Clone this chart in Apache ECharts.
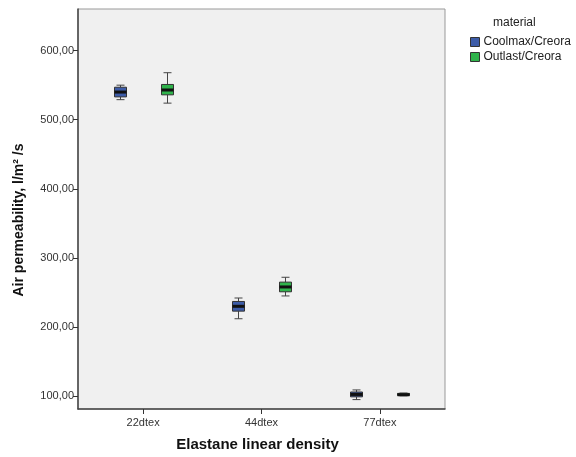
<!DOCTYPE html>
<html>
<head>
<meta charset="utf-8">
<script src="https://cdn.jsdelivr.net/npm/echarts@6/dist/echarts.min.js"></script>
<style>
html,body{margin:0;padding:0;background:#fff;}
#main{width:576px;height:457px;}
</style>
</head>
<body>
<div id="main"></div>
<script>
// ---- data ----
const categories = ['22dtex', '44dtex', '77dtex'];
const seriesNames = ['Coolmax/Creora', 'Outlast/Creora'];
// [min, Q1, median, Q3, max] per category
const coolmax = [
  [529, 533, 540, 547, 550],
  [212, 223, 230, 237, 242],
  [95, 99, 102.5, 106, 109]
];
const outlast = [
  [524, 536, 543, 551, 568],
  [245, 251, 258, 265, 272],
  [100.5, 101, 102, 104, 104.5]
];
const yTicks = [100, 200, 300, 400, 500, 600];
const xTicks = [0, 1, 2];

// ---- styling ----
const colors = ['#3d5ca8', '#2fb34b'];
const chart = echarts.init(document.getElementById('main'), null, {renderer: 'canvas'});
const font = '"Liberation Sans", Arial, sans-serif';

function renderBox(offset) {
  return function (params, api) {
    const x = api.value(0);
    const pMin = api.coord([x, api.value(1)]);
    const pQ1 = api.coord([x, api.value(2)]);
    const pMed = api.coord([x, api.value(3)]);
    const pQ3 = api.coord([x, api.value(4)]);
    const pMax = api.coord([x, api.value(5)]);
    const cx = Math.round(pMin[0] + offset) + 0.5;
    const hw = 6, cap = 4;
    const wStyle = {stroke: '#444', lineWidth: 1};
    return {
      type: 'group',
      children: [
        {type: 'line', shape: {x1: cx, y1: pMax[1], x2: cx, y2: pQ3[1]}, style: wStyle},
        {type: 'line', shape: {x1: cx, y1: pQ1[1], x2: cx, y2: pMin[1]}, style: wStyle},
        {type: 'line', shape: {x1: cx - cap, y1: pMax[1], x2: cx + cap, y2: pMax[1]}, style: wStyle},
        {type: 'line', shape: {x1: cx - cap, y1: pMin[1], x2: cx + cap, y2: pMin[1]}, style: wStyle},
        {type: 'rect', shape: {x: cx - hw, y: pQ3[1], width: hw * 2, height: pQ1[1] - pQ3[1]},
          style: {fill: api.visual('color'), stroke: '#333', lineWidth: 1}},
        {type: 'line', shape: {x1: cx - hw, y1: pMed[1], x2: cx + hw, y2: pMed[1]},
          style: {stroke: '#111', lineWidth: 3}}
      ]
    };
  };
}

const option = {
  backgroundColor: '#ffffff',
  animation: false,
  title: {
    text: 'material',
    left: 488, top: 12,
    textStyle: {fontFamily: font, fontSize: 12, fontWeight: 'normal', color: '#222'}
  },
  legend: {
    orient: 'vertical',
    left: 465, top: 31,
    itemWidth: 9, itemHeight: 9, itemGap: 3,
    icon: 'rect',
    textStyle: {fontFamily: font, fontSize: 12, color: '#222', padding: [0, 0, 0, -1]},
    data: seriesNames.map((n, i) => ({name: n, itemStyle: {color: colors[i], borderColor: '#333', borderWidth: 1}}))
  },
  grid: {
    left: 78, right: 131, top: 9, bottom: 44,
    show: true, backgroundColor: '#f0f0f0', borderColor: '#999', borderWidth: 1
  },
  xAxis: {
    type: 'value',
    min: -0.55, max: 2.55,
    name: 'Elastane linear density',
    nameLocation: 'middle', nameGap: 28,
    nameTextStyle: {fontFamily: font, fontSize: 15, fontWeight: 'bold', color: '#111', padding: [0, 8, 0, 0]},
    axisLine: {show: true, onZero: false, lineStyle: {color: '#444', width: 1.5}},
    axisTick: {show: true, length: 5, customValues: xTicks, lineStyle: {color: '#333'}},
    axisLabel: {customValues: xTicks, margin: 8, fontFamily: font, fontSize: 11, color: '#333',
      formatter: v => categories[Math.round(v)] || ''},
    splitLine: {show: false}
  },
  yAxis: {
    type: 'value',
    min: 81.4, max: 660.2,
    name: 'Air permeability, l/m² /s',
    nameLocation: 'middle', nameGap: 52,
    nameTextStyle: {fontFamily: font, fontSize: 14, fontWeight: 'bold', color: '#111', padding: [0, 22, 0, 0]},
    axisLine: {show: true, onZero: false, lineStyle: {color: '#444', width: 1.5}},
    axisTick: {show: true, length: 5, customValues: yTicks, lineStyle: {color: '#333'}},
    axisLabel: {customValues: yTicks, margin: 4, fontFamily: font, fontSize: 11, color: '#333',
      formatter: v => v.toFixed(2).replace('.', ',')},
    splitLine: {show: false}
  },
  series: [
    {
      name: seriesNames[0], type: 'custom',
      itemStyle: {color: colors[0]},
      encode: {x: 0, y: [1, 2, 3, 4, 5]},
      renderItem: renderBox(-23.5),
      data: coolmax.map((v, i) => [i].concat(v))
    },
    {
      name: seriesNames[1], type: 'custom',
      itemStyle: {color: colors[1]},
      encode: {x: 0, y: [1, 2, 3, 4, 5]},
      renderItem: renderBox(23.5),
      data: outlast.map((v, i) => [i].concat(v))
    }
  ]
};
chart.setOption(option);
</script>
</body>
</html>
